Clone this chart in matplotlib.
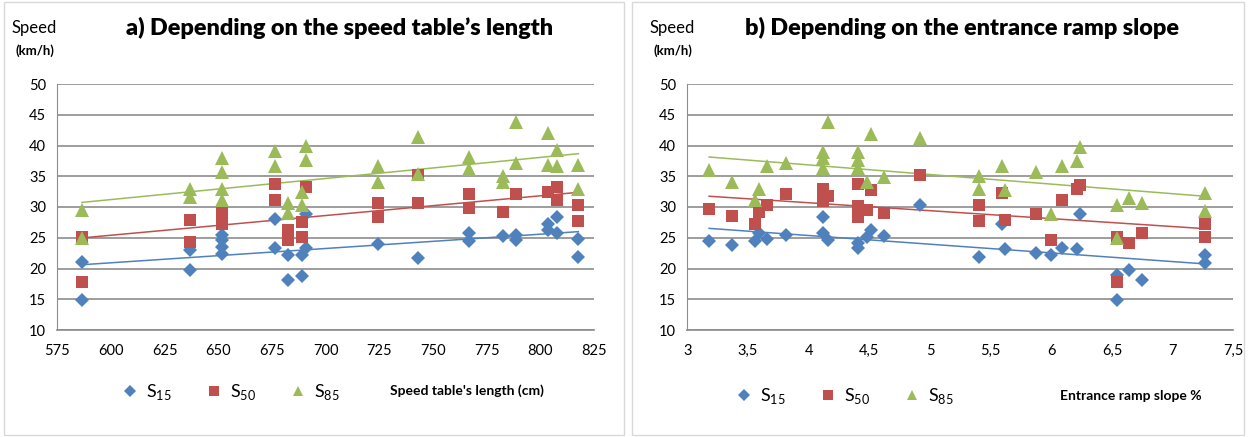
import numpy as np
import matplotlib
matplotlib.use("Agg")
import matplotlib.pyplot as plt
from matplotlib.patches import Rectangle

plt.rcParams['font.family'] = ['Lato', 'DejaVu Sans']
plt.rcParams['mathtext.fontset'] = 'custom'
plt.rcParams['mathtext.rm'] = 'Lato'

blue = '#4F81BD'
red = '#C0504D'
green = '#9BBB59'
grid_col = '#8C8C8C'

# a) speed vs speed table length (cm)
a_s15_x = [586.5, 586.5, 636.8, 636.8, 651.6, 651.6, 651.6, 651.6, 676.4, 676.4,
           682.3, 682.3, 691, 691, 689, 689, 724.2, 742.9, 766.9, 766.9,
           782.4, 788.6, 788.6, 803.7, 803.7, 807.9, 807.9, 817.7, 817.7]
a_s15_y = [21.1, 14.9, 23.0, 19.8, 25.4, 24.6, 23.5, 22.4, 28.0, 23.3,
           22.2, 18.1, 28.9, 23.3, 22.2, 18.7, 24.0, 21.7, 25.8, 24.4,
           25.3, 25.4, 24.6, 27.2, 26.3, 28.4, 25.7, 24.8, 21.8]
a_s50_x = [586.5, 586.5, 636.8, 636.8, 651.6, 651.6, 651.6, 676.4, 676.4,
           682.3, 682.3, 691, 689, 689, 724.2, 724.2, 742.9, 742.9, 766.9, 766.9,
           782.4, 788.6, 803.7, 807.9, 807.9, 817.7, 817.7]
a_s50_y = [25.2, 17.8, 27.9, 24.3, 29.3, 28.3, 27.3, 33.8, 31.1,
           26.3, 24.6, 33.3, 27.5, 25.2, 30.6, 28.4, 35.2, 30.6, 32.1, 29.8,
           29.2, 32.1, 32.5, 33.3, 31.1, 30.3, 27.7]
a_s85_x = [586.5, 586.5, 636.8, 636.8, 651.6, 651.6, 651.6, 651.6, 676.4, 676.4,
           682.3, 682.3, 691, 691, 689, 689, 724.2, 724.2, 742.9, 742.9,
           766.9, 766.9, 782.4, 782.4, 788.6, 788.6, 803.7, 803.7, 807.9, 807.9,
           817.7, 817.7]
a_s85_y = [29.5, 24.9, 32.9, 31.7, 37.9, 35.7, 33.0, 31.2, 39.1, 36.7,
           30.6, 29.0, 39.9, 37.6, 32.5, 30.3, 36.7, 34.1, 41.4, 35.3,
           38.2, 36.1, 35.0, 34.1, 43.9, 37.2, 42.0, 36.8, 39.3, 36.6,
           36.8, 32.9]

# b) speed vs entrance ramp slope (%)
b_s15_x = [3.18, 3.37, 3.56, 3.59, 3.66, 3.81, 4.12, 4.12, 4.16, 4.41, 4.41,
           4.48, 4.51, 4.62, 4.92, 5.40, 5.59, 5.62, 5.87, 6.00, 6.09, 6.21, 6.24,
           6.54, 6.54, 6.64, 6.75, 7.27, 7.27]
b_s15_y = [24.4, 23.9, 24.5, 25.7, 24.8, 25.4, 28.4, 25.7, 24.6, 24.1, 23.3,
           25.2, 26.3, 25.3, 30.3, 21.8, 27.2, 23.1, 22.5, 22.2, 23.4, 23.2, 28.9,
           18.9, 14.9, 19.8, 18.1, 22.2, 20.9]
b_s50_x = [3.18, 3.37, 3.56, 3.59, 3.66, 3.81, 4.12, 4.12, 4.16, 4.41, 4.41, 4.41,
           4.48, 4.51, 4.62, 4.92, 5.40, 5.40, 5.59, 5.62, 5.87, 6.00, 6.09, 6.21,
           6.24, 6.54, 6.54, 6.64, 6.75, 7.27, 7.27]
b_s50_y = [29.6, 28.5, 27.3, 29.2, 30.3, 32.1, 33.0, 31.0, 31.8, 33.8, 30.1, 28.4,
           29.5, 32.8, 29.1, 35.2, 30.4, 27.7, 32.3, 27.9, 28.9, 24.6, 31.1, 33.0,
           33.6, 25.2, 17.8, 24.2, 25.7, 27.3, 25.2]
b_s85_x = [3.18, 3.37, 3.56, 3.59, 3.66, 3.81, 4.12, 4.12, 4.12, 4.16, 4.41, 4.41,
           4.41, 4.48, 4.51, 4.62, 4.92, 5.40, 5.40, 5.59, 5.62, 5.87, 6.00, 6.09,
           6.21, 6.24, 6.54, 6.54, 6.64, 6.75, 7.27, 7.27]
b_s85_y = [36.0, 34.1, 31.1, 33.0, 36.7, 37.1, 39.0, 37.9, 36.3, 43.8, 39.0, 37.6,
           36.3, 34.1, 41.8, 34.9, 41.2, 35.0, 32.9, 36.7, 32.8, 35.7, 28.9, 36.6,
           37.5, 39.7, 30.3, 24.9, 31.5, 30.6, 32.3, 29.3]

a_ticks = list(range(575, 826, 25))
b_ticks = [3, 3.5, 4, 4.5, 5, 5.5, 6, 6.5, 7, 7.5]
b_ticklabels = ['3', '3,5', '4', '4,5', '5', '5,5', '6', '6,5', '7', '7,5']
y_ticks = list(range(10, 51, 5))

W, H = 1253, 437
fig = plt.figure(figsize=(W / 100, H / 100), dpi=100)

# panel frames
for x0, x1 in [(4, 624), (632, 1244)]:
    fig.patches.append(Rectangle((x0 / W, 2 / H), (x1 - x0) / W, (H - 4) / H,
                                 transform=fig.transFigure, fill=False,
                                 edgecolor='#D9D9D9', linewidth=1))


def panel(rect, series, xlim, xticks, xticklabels):
    ax = fig.add_axes(rect)
    for xs, ys, col, mk, ms in series:
        ax.plot(xs, ys, linestyle='none', marker=mk, color=col, markersize=ms,
                markeredgewidth=0, zorder=3)
        k, b = np.polyfit(xs, ys, 1)
        xx = np.array([min(xs), max(xs)])
        ax.plot(xx, k * xx + b, color=col, linewidth=1.1, zorder=2)
    ax.set_xlim(xlim)
    ax.set_ylim(10, 50)
    ax.set_yticks(y_ticks)
    ax.set_xticks(xticks)
    ax.set_xticklabels(xticklabels)
    ax.grid(axis='y', color=grid_col, linewidth=1.2)
    ax.set_axisbelow(True)
    for s in ['top', 'right']:
        ax.spines[s].set_visible(False)
    ax.spines['left'].set_color(grid_col)
    ax.spines['bottom'].set_color(grid_col)
    ax.spines['bottom'].set_linewidth(1.2)
    ax.tick_params(length=0, labelsize=10.5, pad=10)
    ax.tick_params(axis='y', pad=8)
    return ax


def px_rect(x0, x1, y0, y1):
    return [x0 / W, 1 - y1 / H, (x1 - x0) / W, (y1 - y0) / H]


ax1 = panel(px_rect(57.3, 594, 84, 330),
            [(a_s15_x, a_s15_y, blue, 'D', 7.5),
             (a_s50_x, a_s50_y, red, 's', 9),
             (a_s85_x, a_s85_y, green, '^', 9.5)],
            (575, 825), a_ticks, [str(t) for t in a_ticks])
ax2 = panel(px_rect(687.3, 1233.3, 84, 330),
            [(b_s15_x, b_s15_y, blue, 'D', 7.5),
             (b_s50_x, b_s50_y, red, 's', 9),
             (b_s85_x, b_s85_y, green, '^', 9.5)],
            (3, 7.5), b_ticks, b_ticklabels)

# titles and axis captions
fig.text(340 / W, 1 - 28 / H, 'a) Depending on the speed table\u2019s length',
         ha='center', va='center', fontsize=16.8, fontweight='heavy')
fig.text(962 / W, 1 - 28 / H, 'b) Depending on the entrance ramp slope',
         ha='center', va='center', fontsize=16.8, fontweight='heavy')
for x in [12, 650]:
    fig.text(x / W, 1 - 28 / H, 'Speed', ha='left', va='center', fontsize=12)
    fig.text((x + 3) / W, 1 - 51 / H, '(km/h)', ha='left', va='center',
             fontsize=9.5, fontweight='bold')

fig.text(390 / W, 1 - 391 / H, "Speed table's length (cm)", ha='left', va='center',
         fontsize=10, fontweight='bold')
fig.text(1060 / W, 1 - 396 / H, 'Entrance ramp slope %', ha='left', va='center',
         fontsize=10, fontweight='bold')

# legends
labels = [r'S$_{\mathregular{15}}$', r'S$_{\mathregular{50}}$', r'S$_{\mathregular{85}}$']
for lx, ly in [(123, 382), (737, 386)]:
    handles = [plt.Line2D([], [], linestyle='none', marker='D', color=blue, markersize=6, markeredgewidth=0),
               plt.Line2D([], [], linestyle='none', marker='s', color=red, markersize=7, markeredgewidth=0),
               plt.Line2D([], [], linestyle='none', marker='^', color=green, markersize=7, markeredgewidth=0)]
    fig.legend(handles, labels, loc='upper left', bbox_to_anchor=(lx / W, 1 - ly / H),
               ncol=3, frameon=False, fontsize=13, handlelength=0.8,
               handletextpad=0.5, columnspacing=1.9, borderpad=0, borderaxespad=0)

fig.savefig('out.png', dpi=100)
